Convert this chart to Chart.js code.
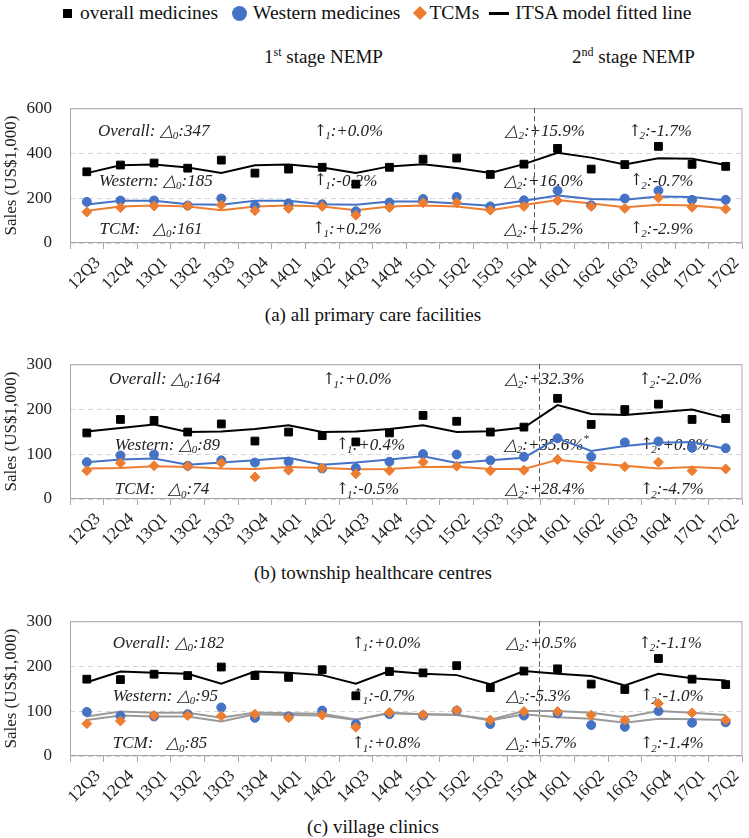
<!DOCTYPE html>
<html>
<head>
<meta charset="utf-8">
<script src="https://cdn.jsdelivr.net/npm/chart.js@4.4.1/dist/chart.umd.min.js"></script>
<style>
  body { margin:0; width:749px; height:838px; background:#fff; position:relative; overflow:hidden;
         font-family:"Liberation Serif","Times New Roman",serif; color:#111; }
  .abs { position:absolute; white-space:nowrap; }
  canvas { position:absolute; left:0; }
  .cap { left:0; width:746px; text-align:center; font-size:19px; line-height:22px; }
  .sup { font-size:12px; position:relative; top:-7px; }
</style>
</head>
<body>

<div class="abs" style="left:63px;top:2px;font-size:19.5px;line-height:22px;display:flex;align-items:center">
  <span style="display:inline-block;width:9px;height:9px;background:#000;margin-right:8px"></span>overall medicines
  <span style="display:inline-block;width:15px;height:15px;border-radius:50%;background:#4472C4;margin:0 6px 0 14px"></span>Western medicines
  <span style="display:inline-block;width:10px;height:10px;background:#ED7D31;transform:rotate(45deg);margin:0 4px 0 15px"></span>TCMs
  <span style="display:inline-block;width:20px;height:3px;background:#000;margin:0 6px 0 10px"></span>ITSA model fitted line
</div>

<div class="abs" style="left:264px;top:46px;font-size:19px;line-height:22px">1<span class="sup">st</span> stage NEMP</div>
<div class="abs" style="left:572px;top:46px;font-size:19px;line-height:22px">2<span class="sup">nd</span> stage NEMP</div>

<canvas id="chartA" width="749" height="220" style="top:80px"></canvas>
<div class="abs cap" style="top:304px">(a) all primary care facilities</div>

<canvas id="chartB" width="749" height="220" style="top:336px"></canvas>
<div class="abs cap" style="top:562px">(b) township healthcare centres</div>

<canvas id="chartC" width="749" height="220" style="top:593px"></canvas>
<div class="abs cap" style="top:816px">(c) village clinics</div>

<script>
const quarters = ['12Q3','12Q4','13Q1','13Q2','13Q3','13Q4','14Q1','14Q2','14Q3','14Q4',
                  '15Q1','15Q2','15Q3','15Q4','16Q1','16Q2','16Q3','16Q4','17Q1','17Q2'];

// (a) all primary care facilities
const allOverall    = [317,347,356,333,369,311,329,337,262,337,373,378,305,351,421,329,349,430,350,341];
const allOverallFit = [311,346,349,336,312,346,349,336,312,341,351,334,312,351,402,380,350,377,375,347];
const allWestern    = [183,189,189,167,198,166,176,172,141,180,196,205,163,190,233,168,198,233,192,192];
const allWesternFit = [171,188,188,172,170,188,188,172,170,185,185,176,166,188,211,196,192,207,205,189];
const allTcm        = [138,158,165,165,169,144,154,163,124,158,179,179,146,163,189,163,154,201,159,151];
const allTcmFit     = [144,162,167,162,146,162,167,162,146,162,167,162,146,169,191,176,159,170,167,155];
const allNotes = [
  ['Overall: △_0:347', '↑_1:+0.0%', '△_2:+15.9%', '↑_2:-1.7%'],
  ['Western: △_0:185', '↑_1:-0.2%', '△_2:+16.0%', '↑_2:-0.7%'],
  ['TCM:   △_0:161',   '↑_1:+0.2%', '△_2:+15.2%', '↑_2:-2.9%']
];

// (b) township healthcare centres
const twnOverall    = [147,177,175,149,167,129,149,141,127,147,186,173,149,160,224,166,199,211,177,179];
const twnOverallFit = [150,158,166,149,150,156,164,149,150,156,164,149,151,159,209,189,187,193,199,180];
const twnWestern    = [82,97,99,74,86,81,83,68,69,83,100,99,86,94,135,94,126,128,114,113];
const twnWesternFit = [82,88,90,76,81,86,92,76,81,88,95,80,86,92,135,107,118,125,127,112];
const twnTcm        = [63,80,74,73,80,49,64,69,56,63,82,73,63,64,88,71,72,82,63,67];
const twnTcmFit     = [68,69,73,71,68,67,71,69,66,67,71,72,67,67,87,80,74,68,71,68];
const twnNotes = [
  ['Overall: △_0:164', '↑_1:+0.0%', '△_2:+32.3%', '↑_2:-2.0%'],
  ['Western: △_0:89',  '↑_1:+0.4%', '△_2:+35.6%^*', '↑_2:+0.0%'],
  ['TCM:   △_0:74',    '↑_1:-0.5%', '△_2:+28.4%', '↑_2:-4.7%']
];

// (c) village clinics
const vilOverall    = [171,170,182,179,198,179,175,192,134,188,185,201,152,189,194,160,148,217,171,159];
const vilOverallFit = [164,188,185,183,161,188,185,180,161,189,183,180,160,189,183,178,157,183,173,168];
const vilWestern    = [98,89,88,93,108,85,88,101,71,93,90,101,71,90,95,69,65,100,74,75];
const vilWesternFit = [88,99,96,96,85,97,95,94,81,95,93,92,79,93,86,83,74,83,82,80];
const vilTcm        = [72,78,90,90,89,93,85,91,64,97,92,102,80,99,99,91,80,117,96,80];
const vilTcmFit     = [80,90,88,88,77,93,91,90,80,96,93,91,81,100,100,96,86,100,96,91];
const vilNotes = [
  ['Overall: △_0:182', '↑_1:+0.0%', '△_2:+0.5%', '↑_2:-1.1%'],
  ['Western: △_0:95',  '↑_1:-0.7%', '△_2:-5.3%', '↑_2:-1.0%'],
  ['TCM:   △_0:85',    '↑_1:+0.8%', '△_2:+5.7%', '↑_2:-1.4%']
];

const SERIF = '"Liberation Serif", "Times New Roman", serif';

// text with _x subscripts and ^x superscripts; the arrow gets a font where it is full height
function drawRich(ctx, str, x, y, size) {
  let cx = x;
  const parts = str.split(/([_^].|↑)/);
  for (const p of parts) {
    if (!p) continue;
    if (p === '↑') {
      ctx.font = (size - 1) + 'px "DejaVu Serif", serif';
      ctx.fillText(p, cx, y);
      cx += ctx.measureText(p).width - 2;
    } else if (p[0] === '_' || p[0] === '^') {
      ctx.font = 'italic ' + Math.round(size * 0.65) + 'px ' + SERIF;
      const dy = p[0] === '_' ? size * 0.28 : -size * 0.35;
      ctx.fillText(p[1], cx, y + dy);
      cx += ctx.measureText(p[1]).width;
    } else {
      ctx.font = 'italic ' + size + 'px ' + SERIF;
      ctx.fillText(p, cx, y);
      cx += ctx.measureText(p).width;
    }
  }
}

const panelDeco = {
  id: 'panelDeco',
  beforeDatasetsDraw(chart, args, opts) {
    const ctx = chart.ctx, a = chart.chartArea, xs = chart.scales.x, ys = chart.scales.y;
    ctx.save();
    ctx.strokeStyle = '#a6a6a6';
    ctx.lineWidth = 1;
    ctx.strokeRect(a.left + 0.5, a.top + 0.5, a.width - 1, a.height - 1);

    const step = xs.getPixelForValue(1) - xs.getPixelForValue(0);
    const sx = Math.round(xs.getPixelForValue(13) + step * opts.split) + 0.5;
    ctx.setLineDash([5, 3]);
    ctx.strokeStyle = '#595959';
    ctx.beginPath();
    ctx.moveTo(sx, a.top);
    ctx.lineTo(sx, a.bottom);
    ctx.stroke();
    ctx.setLineDash([]);

    ctx.fillStyle = '#222';
    ctx.textBaseline = 'middle';
    ctx.textAlign = 'left';
    opts.notes.forEach((row, r) => {
      row.forEach((txt, c) => {
        const x = xs.getPixelForValue(0) + step * opts.cols[r][c];
        drawRich(ctx, txt, x, ys.getPixelForValue(opts.rows[r]), 17);
      });
    });
    ctx.restore();
  }
};

function makeChart(id, yMax, yStep, overall, overallFit, western, westernFit, tcm, tcmFit, fitW, fitT, deco) {
  const pts = (data, style, color, r, order) => ({
    data, type: 'line', showLine: false, pointStyle: style, pointRadius: r,
    pointBackgroundColor: color, pointBorderColor: color, pointBorderWidth: 1, order
  });
  const fit = (data, color) => ({
    data, type: 'line', borderColor: color, borderWidth: 2, pointRadius: 0, tension: 0, fill: false, order: 3
  });
  new Chart(document.getElementById(id), {
    type: 'line',
    data: {
      labels: quarters,
      datasets: [
        fit(overallFit, '#000'),
        fit(westernFit, fitW),
        fit(tcmFit, fitT),
        pts(western, 'circle', '#4472C4', 4.5, 2),
        pts(tcm, 'rectRot', '#ED7D31', 5, 1),
        pts(overall, 'rect', '#000', 5.5, 0)
      ]
    },
    options: {
      responsive: false,
      animation: false,
      layout: { padding: { top: 8, right: 3, left: 0, bottom: 0 } },
      plugins: { legend: { display: false }, tooltip: { enabled: false }, panelDeco: deco },
      scales: {
        x: {
          offset: true,
          grid: { offset: true, drawOnChartArea: false, drawTicks: true, tickLength: 6, color: '#a6a6a6' },
          border: { display: false },
          ticks: { autoSkip: false, maxRotation: 45, minRotation: 45, padding: 4, labelOffset: 11,
                   color: '#222', font: { family: SERIF, size: 17 } },
          afterFit: s => { s.height = 57; }
        },
        y: {
          min: 0, max: yMax,
          ticks: { stepSize: yStep, padding: 18, color: '#222', font: { family: SERIF, size: 17 } },
          grid: { drawTicks: false, color: '#d4d4d4' },
          border: { display: false, dash: [5, 4] },
          title: { display: true, text: 'Sales (US$1,000)', color: '#222',
                   font: { family: SERIF, size: 17 }, padding: { top: 1, bottom: 0 } },
          afterFit: s => { s.width = 70; }
        }
      }
    },
    plugins: [panelDeco]
  });
}

makeChart('chartA', 600, 100, allOverall, allOverallFit, allWestern, allWesternFit, allTcm, allTcmFit,
  '#4472C4', '#ED7D31',
  { split: 0.3, notes: allNotes, rows: [496, 275, 61],
    cols: [[0.33, 6.75, 12.45, 16.1], [0.36, 6.75, 12.4, 16.15], [0.38, 6.7, 12.4, 16.15]] });

makeChart('chartB', 300, 50, twnOverall, twnOverallFit, twnWestern, twnWesternFit, twnTcm, twnTcmFit,
  '#4472C4', '#ED7D31',
  { split: 0.45, notes: twnNotes, rows: [265, 120, 20],
    cols: [[0.66, 7.0, 12.43, 16.4], [0.83, 7.4, 12.4, 16.45], [0.83, 7.4, 12.45, 16.45]] });

makeChart('chartC', 300, 50, vilOverall, vilOverallFit, vilWestern, vilWesternFit, vilTcm, vilTcmFit,
  '#9a9a9a', '#9a9a9a',
  { split: 0.45, notes: vilNotes, rows: [250, 133, 27],
    cols: [[0.77, 7.87, 12.46, 16.4], [0.77, 7.87, 12.46, 16.45], [0.77, 7.87, 12.46, 16.45]] });
</script>
</body>
</html>
